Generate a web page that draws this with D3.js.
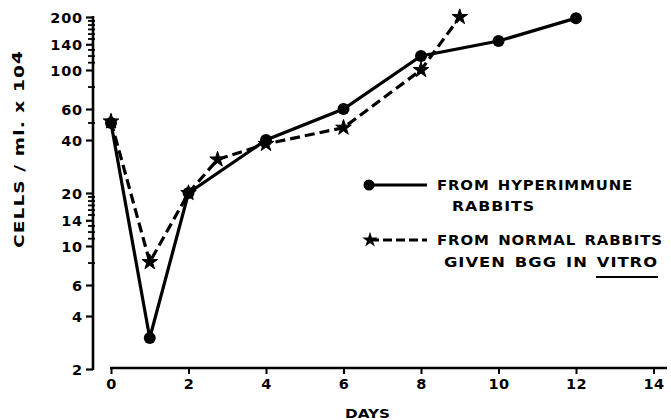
<!DOCTYPE html>
<html>
<head>
<meta charset="utf-8">
<script src="https://cdn.jsdelivr.net/npm/d3@7"></script>
<style>
  body { margin: 0; background: #fff; }
  svg text { font-family: "DejaVu Sans", sans-serif; font-weight: bold; fill: #000; }
</style>
</head>
<body>
<svg id="chart" width="671" height="420"></svg>
<script>
// data
const hyperDays = [0, 1, 2, 4, 6, 8, 10, 12];
const hyperCells = [50, 3, 20, 40, 60, 120, 146, 197];

const normalDays = [0, 1, 2, 2.75, 4, 6, 8, 9];
const normalCells = [51, 8.1, 20, 31, 38, 47, 100, 200];

const xTicks = [0, 2, 4, 6, 8, 10, 12, 14];
const yTicks = [2, 4, 6, 10, 14, 20, 40, 60, 100, 140, 200];
const yMinorTicks = [8, 11, 12, 13, 15, 16, 17, 18, 19, 50, 80, 110, 120, 130, 150, 160, 170, 180, 190];

const legendLabels = [
  ["FROM HYPERIMMUNE", "RABBITS"],
  ["FROM NORMAL RABBITS", "GIVEN BGG IN VITRO"]
];

let svg = d3.select('#chart');

let x = d3.scaleLinear().domain([0, 14]).range([111, 653.5]);
let y = d3.scaleLog().domain([2, 200]).range([369, 17]);

const axisX = 93;     // y axis position
const axisY = 368;    // x axis position

// y axis
let yAxis = svg.append('g').attr('transform', 'translate(' + axisX + ',0)')
    .call(d3.axisLeft(y).tickValues(yTicks).tickFormat(d3.format('d')).tickSize(7).tickPadding(3));
yAxis.select('.domain').remove();
yAxis.selectAll('.tick line').attr('stroke-width', 2.2);
yAxis.selectAll('.tick text')
    .style('font-size', '14.5px')
    .style('letter-spacing', '0.8px')
    .attr('dy', '0.36em');
yAxis.append('line')
    .attr('x1', 0).attr('x2', 0)
    .attr('y1', y(200) - 1).attr('y2', y(2) + 1)
    .attr('stroke', '#000').attr('stroke-width', 2.6);

yAxis.selectAll('.minor')
    .data(yMinorTicks)
    .enter().append('line')
    .attr('class', 'minor')
    .attr('x1', -5).attr('x2', 2)
    .attr('y1', d => y(d)).attr('y2', d => y(d))
    .attr('stroke', '#000').attr('stroke-width', 1.8);

// x axis
let xAxis = svg.append('g').attr('transform', 'translate(0,' + axisY + ')')
    .call(d3.axisBottom(x).tickValues(xTicks).tickSize(6).tickPadding(5));
xAxis.select('.domain').remove();
xAxis.selectAll('.tick line').attr('stroke-width', 2);
xAxis.selectAll('.tick text')
    .style('font-size', '14.5px')
    .style('letter-spacing', '0.5px');
xAxis.append('line')
    .attr('x1', x(0) - 1).attr('x2', 667)
    .attr('y1', 0).attr('y2', 0)
    .attr('stroke', '#000').attr('stroke-width', 2.6);

// axis titles
svg.append('text')
    .attr('x', 345).attr('y', 418)
    .attr('textLength', 45).attr('lengthAdjust', 'spacingAndGlyphs')
    .style('font-size', '13px')
    .text('DAYS');

let yTitle = svg.append('text')
    .attr('transform', 'translate(24,248) rotate(-90)')
    .attr('textLength', 198).attr('lengthAdjust', 'spacingAndGlyphs')
    .style('font-size', '13.5px')
    .style('letter-spacing', '0.8px');
yTitle.append('tspan').text('CELLS / ml. x 10');
yTitle.append('tspan').attr('dy', -2).text('4');

// series
let line = d3.line()
    .x(d => x(d[0]))
    .y(d => y(d[1]));

let hyper = d3.zip(hyperDays, hyperCells);
let normal = d3.zip(normalDays, normalCells);

svg.append('path')
    .datum(normal)
    .attr('d', line)
    .attr('fill', 'none')
    .attr('stroke', '#000')
    .attr('stroke-width', 3.2)
    .attr('stroke-dasharray', '10,5');

svg.append('path')
    .datum(hyper)
    .attr('d', line)
    .attr('fill', 'none')
    .attr('stroke', '#000')
    .attr('stroke-width', 3.2);

let star = d3.symbol().type(d3.symbolStar).size(75);

svg.selectAll('.star')
    .data(normal)
    .enter().append('path')
    .attr('class', 'star')
    .attr('d', star)
    .attr('stroke', '#000').attr('stroke-width', 1)
    .attr('transform', d => 'translate(' + x(d[0]) + ',' + y(d[1]) + ')');

svg.selectAll('.dot')
    .data(hyper)
    .enter().append('circle')
    .attr('class', 'dot')
    .attr('cx', d => x(d[0]))
    .attr('cy', d => y(d[1]))
    .attr('r', 6);

// legend
let legend = svg.append('g');

legend.append('line')
    .attr('x1', 369).attr('x2', 427).attr('y1', 185).attr('y2', 185)
    .attr('stroke', '#000').attr('stroke-width', 3);
legend.append('circle').attr('cx', 369).attr('cy', 185).attr('r', 5.5);

legend.append('line')
    .attr('x1', 370).attr('x2', 427).attr('y1', 240).attr('y2', 240)
    .attr('stroke', '#000').attr('stroke-width', 3)
    .attr('stroke-dasharray', '9,4');
legend.append('path').attr('d', star).attr('transform', 'translate(370,240)');

const legendText = [
  { x: 437, y: 190, w: 196, t: legendLabels[0][0] },
  { x: 452, y: 211, w: 83, t: legendLabels[0][1] },
  { x: 437, y: 245, w: 226, t: legendLabels[1][0] },
  { x: 444, y: 267, w: 214, t: legendLabels[1][1] }
];
legend.selectAll('.ltext')
    .data(legendText)
    .enter().append('text')
    .attr('class', 'ltext')
    .attr('x', d => d.x).attr('y', d => d.y)
    .attr('textLength', d => d.w).attr('lengthAdjust', 'spacingAndGlyphs')
    .style('font-size', '13.5px')
    .style('letter-spacing', '0.8px')
    .style('word-spacing', '2px')
    .text(d => d.t);

// underline of "IN VITRO"
legend.append('line')
    .attr('x1', 596).attr('x2', 658).attr('y1', 277).attr('y2', 277)
    .attr('stroke', '#000').attr('stroke-width', 2);
</script>
</body>
</html>
